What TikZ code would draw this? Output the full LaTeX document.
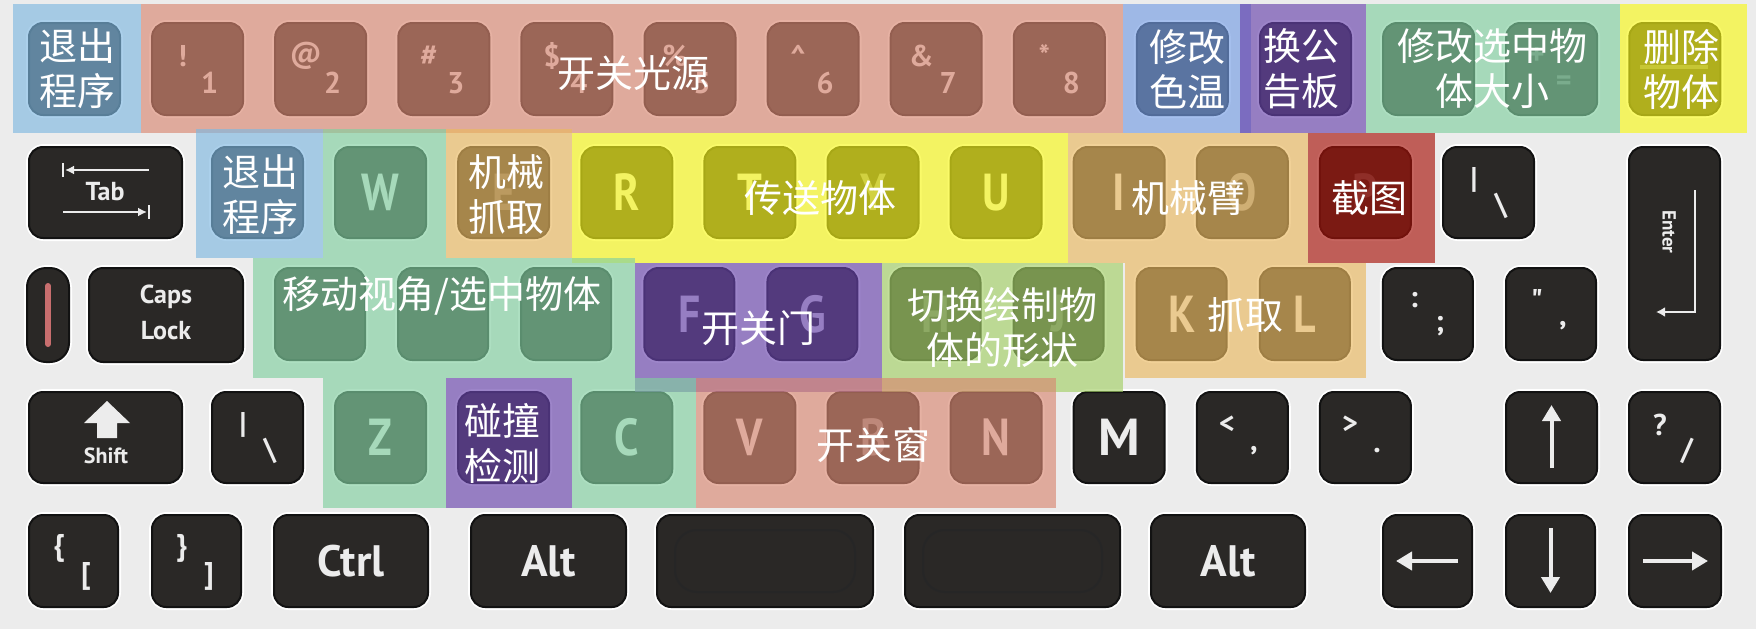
\documentclass[tikz,border=0pt]{standalone}
\usepackage{fontspec}
\newfontfamily\cjk{Noto Sans CJK SC}
\newfontfamily\kf{PT Sans}
\usetikzlibrary{arrows.meta}
\definecolor{bgc}{RGB}{236,236,236}
\definecolor{keyc}{RGB}{42,40,38}
\definecolor{keyedge}{RGB}{18,18,18}
\definecolor{legc}{RGB}{236,236,236}
\definecolor{ovred}{RGB}{217,136,114}
\definecolor{ovblueA}{RGB}{127,184,225}
\definecolor{ovblueB}{RGB}{117,157,228}
\definecolor{ovpurple}{RGB}{105,68,173}
\definecolor{ovgreen}{RGB}{130,207,160}
\definecolor{ovyellow}{RGB}{248,248,25}
\definecolor{ovorange}{RGB}{234,185,96}
\definecolor{ovdred}{RGB}{167,19,10}
\definecolor{ovlgreen}{RGB}{163,207,102}
\newcommand\kb[4]{%
  \draw[white,line width=6pt,rounded corners=15pt] (#1,#2) rectangle (#3,#4);
  \draw[keyedge,fill=keyc,line width=2pt,rounded corners=14pt] (#1,#2) rectangle (#3,#4);}
\tikzset{
  leg/.style={text=legc,font=\kf\bfseries\fontsize{52}{52}\selectfont,inner sep=0pt,xscale=0.84},
  smallleg/.style={text=legc,font=\kf\bfseries\fontsize{30}{30}\selectfont,inner sep=0pt},
  wordleg/.style={text=legc,font=\kf\bfseries\fontsize{26}{26}\selectfont,inner sep=0pt},
  bigword/.style={text=legc,font=\kf\bfseries\fontsize{44}{44}\selectfont,inner sep=0pt},
  ov/.style={fill opacity=0.65},
  cn/.style={text=white,font=\cjk\fontsize{38}{45}\selectfont,align=center,inner sep=0pt},
  legline/.style={draw=legc,line width=4pt},
}
\begin{document}
\begin{tikzpicture}[x=1pt,y=-1pt]
\useasboundingbox (0,0) rectangle (1756,629);
\fill[bgc] (0,0) rectangle (1756,629);
% ---------------- keys ----------------
% row 1
\foreach \i in {0,...,13}{\pgfmathsetmacro\L{29+123.1*\i}\kb{\L}{23}{\L+91}{115}}
% row 2
\kb{29}{147}{182}{238}
\foreach \j in {0,...,10}{\pgfmathsetmacro\L{212+123.1*\j}\kb{\L}{147}{\L+91}{238}}
\kb{1629}{147}{1720}{360}
% row 3
\draw[white,line width=6pt,rounded corners=20pt] (27,268) rectangle (69,362);
\draw[keyedge,fill=keyc,line width=2pt,rounded corners=19pt] (27,268) rectangle (69,362);
\draw[line width=6pt,color={rgb,255:red,200;green,110;blue,110},line cap=round] (48,286) -- (48,344);
\kb{89}{268}{243}{362}
\foreach \k in {0,...,10}{\pgfmathsetmacro\L{275+123.1*\k}\kb{\L}{268}{\L+90}{360}}
% row 4
\kb{29}{392}{182}{483}
\foreach \m in {0,...,9}{\pgfmathsetmacro\L{212+123.1*\m}\kb{\L}{392}{\L+91}{483}}
\kb{1506}{392}{1597}{483}
\kb{1629}{392}{1720}{483}
% row 5
\kb{29}{515}{118}{607}
\kb{152}{515}{241}{607}
\kb{274}{515}{428}{607}
\kb{471}{515}{626}{607}
\kb{657}{515}{873}{607}
\kb{905}{515}{1120}{607}
\kb{1151}{515}{1305}{607}
\kb{1383}{515}{1472}{607}
\kb{1506}{515}{1595}{607}
\kb{1629}{515}{1721}{607}
\draw[black!85,line width=2pt,rounded corners=22pt] (675,530) rectangle (855,592);
\draw[black!85,line width=2pt,rounded corners=22pt] (923,530) rectangle (1102,592);
% ---------------- legends ----------------
\foreach \i/\s/\d/\o in {1/!/1/1,2/@/2/1,3/{\#}/3/1,4/{\$}/4/1,5/{\%}/5/1,6/{\textasciicircum}/6/1,7/{\&}/7/1,8/{*}/8/1,12/+/=/0.35}{
  \pgfmathsetmacro\X{29+123.1*\i+45.5}
  \node[smallleg,opacity=\o] (s\i) at (\X-15,56) {\s};
  \node[smallleg,opacity=\o] (d\i) at (\X+12,83) {\d};
}
\draw[legline,opacity=0.35] (1640,67) -- (1708,67);
% row 2
\node[wordleg] (tab) at (105,192) {Tab};
\draw[draw=legc,line width=2.5pt,-{Latex[length=9pt,width=9pt]}] (149,170) -- (65,170);
\draw[draw=legc,line width=2.5pt] (63,163) -- (63,177);
\draw[draw=legc,line width=2.5pt,-{Latex[length=9pt,width=9pt]}] (63,212) -- (147,212);
\draw[draw=legc,line width=2.5pt] (149,205) -- (149,219);
\foreach \j/\c/\o in {1/W/1,2/E/0.3,3/R/1,4/T/1,5/Y/0.5,6/U/1,7/I/1,8/O/0.6,9/P/0.3}{
  \pgfmathsetmacro\X{212+123.1*\j+45.5}
  \node[leg,opacity=\o] (r2\c) at (\X,192.5) {\c};
}
\node[smallleg] (bs1) at (1474,180) {|};
\node[smallleg] (bs2) at (1501,206) {\textbackslash};
\node[wordleg,rotate=-90,font=\kf\bfseries\fontsize{19}{19}\selectfont] (ent) at (1669,232) {Enter};
\draw[draw=legc,line width=2.5pt,-{Latex[length=9pt,width=10pt]}] (1695,190) -- (1695,312) -- (1656,312);
% row 3
\node[wordleg] (caps) at (166,297) {Caps};
\node[wordleg] (lock) at (166,331) {Lock};
\foreach \k/\c/\o in {3/F/1,4/G/1,5/H/0.3,6/J/0.3,7/K/1,8/L/1}{
  \pgfmathsetmacro\X{275+123.1*\k+45}
  \node[leg,opacity=\o] (r3\c) at (\X,314) {\c};
}
\node[smallleg] (col1) at (1414,300) {:};
\node[smallleg] (col2) at (1440,326) {;};
\node[smallleg] (quo1) at (1537,300) {"};
\node[smallleg] (quo2) at (1563,326) {,};
% row 4
\fill[legc] (107,401) -- (130,423) -- (117,423) -- (117,438) -- (97,438) -- (97,423) -- (84,423) -- cycle;
\node[wordleg,font=\kf\bfseries\fontsize{22}{22}\selectfont] (shift) at (106,456) {Shift};
\node[smallleg] (bs3) at (243,425) {|};
\node[smallleg] (bs4) at (270,451) {\textbackslash};
\foreach \m/\c/\o in {1/Z/1,3/C/1,4/V/1,5/B/0.5,6/N/1}{
  \pgfmathsetmacro\X{212+123.1*\m+45.5}
  \node[leg,opacity=\o] (r4\c) at (\X,437.5) {\c};
}
\node[bigword,font=\kf\bfseries\fontsize{52}{52}\selectfont] (r4M) at (1119,437.5) {M};
\node[smallleg] (lt1) at (1227,425) {<};
\node[smallleg] (lt2) at (1254,451) {,};
\node[smallleg] (gt1) at (1350,425) {>};
\node[smallleg] (gt2) at (1377,451) {.};
\draw[draw=legc,line width=4pt,-{Triangle[length=16pt,width=18pt]}] (1551.5,468) -- (1551.5,405);
\node[smallleg] (qm1) at (1660,425) {?};
\node[smallleg] (qm2) at (1687,451) {/};
% row 5
\node[smallleg] (br1) at (59,548) {\{};
\node[smallleg] (br2) at (86,576) {[};
\node[smallleg] (br3) at (182,548) {\}};
\node[smallleg] (br4) at (209,576) {]};
\node[bigword] (ctrl) at (351,561) {Ctrl};
\node[bigword] (alt1) at (548.5,561) {Alt};
\node[bigword] (alt2) at (1228,561) {Alt};
\draw[draw=legc,line width=4pt,-{Triangle[length=16pt,width=18pt]}] (1458,561) -- (1396,561);
\draw[draw=legc,line width=4pt,-{Triangle[length=16pt,width=18pt]}] (1550.5,528) -- (1550.5,593);
\draw[draw=legc,line width=4pt,-{Triangle[length=16pt,width=18pt]}] (1643,561) -- (1708,561);
% ---------------- overlays ----------------
% row 1
\fill[ov,fill=ovblueA] (13,4) rectangle (141,133);
\fill[ov,fill=ovred] (141,4) rectangle (1123,133);
\fill[ov,fill=ovblueB] (1123,4) rectangle (1251,133);
\fill[ov,fill=ovpurple] (1240,4) rectangle (1366,133);
\fill[ov,fill=ovgreen] (1366,4) rectangle (1620,133);
\fill[ov,fill=ovyellow] (1620,4) rectangle (1747,133);
% row 2
\fill[ov,fill=ovblueA] (196,129) rectangle (323,258);
\fill[ov,fill=ovgreen] (323,129) rectangle (446,258);
\fill[ov,fill=ovorange] (446,129) rectangle (572,258);
\fill[ov,fill=ovyellow] (572,133) rectangle (1068,263);
\fill[ov,fill=ovorange] (1068,133) rectangle (1308,263);
\fill[ov,fill=ovdred] (1308,133) rectangle (1435,263);
% row 3
\fill[ov,fill=ovgreen] (253,258) rectangle (635,378);
\fill[ov,fill=ovpurple] (635,263) rectangle (882,392);
\fill[ov,fill=ovlgreen] (882,263) rectangle (1123,392);
\fill[ov,fill=ovorange] (1125,263) rectangle (1366,378);
% row 4
\fill[ov,fill=ovgreen] (323,378) rectangle (446,508);
\fill[ov,fill=ovpurple] (446,378) rectangle (572,508);
\fill[ov,fill=ovgreen] (572,378) rectangle (696,508);
\fill[ov,fill=ovred] (696,378) rectangle (1056,508);
% ---------------- labels ----------------
\node[cn] (t1) at (77,69) {退出\\程序};
\node[cn] (t2) at (633,73) {开关光源};
\node[cn] (t3) at (1187,69) {修改\\色温};
\node[cn] (t4) at (1301,69) {换公\\告板};
\node[cn] (t5) at (1492,69) {修改选中物\\体大小};
\node[cn] (t6) at (1681,69) {删除\\物体};
\node[cn] (t7) at (260,195) {退出\\程序};
\node[cn] (t8) at (506,195) {机械\\抓取};
\node[cn] (t9) at (820,198) {传送物体};
\node[cn] (t10) at (1188,198) {机械臂};
\node[cn] (t11) at (1369,198) {截图};
\node[cn] (t12) at (442,296) {移动视角/选中物体};
\node[cn] (t13) at (758,328) {开关门};
\node[cn] (t14) at (1002,328) {切换绘制物\\体的形状};
\node[cn] (t15) at (1245,315) {抓取};
\node[cn] (t16) at (502,443) {碰撞\\检测};
\node[cn] (t17) at (873,445) {开关窗};
\end{tikzpicture}
\end{document}
